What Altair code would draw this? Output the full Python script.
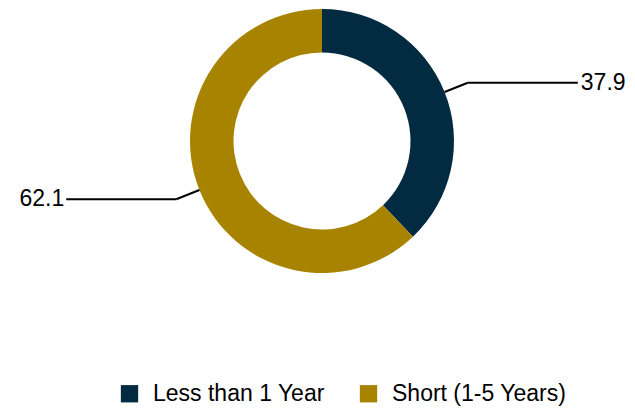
import altair as alt
import pandas as pd

categories = ["Less than 1 Year", "Short (1-5 Years)"]
values = [37.9, 62.1]
labels = ["37.9", "62.1"]
order = [0, 1]
colors = ["#022b42", "#a88300"]

df = pd.DataFrame({"cat": categories, "value": values, "label": labels, "ord": order})

W, H = 619, 400
CX, CY = 314, 133
R_OUT, R_IN = 132, 88.5
R_ELB = 157
HLEN = 110
FONT = "Arial"

base = alt.Chart(df).transform_joinaggregate(
    total="sum(value)"
).transform_window(
    cum="sum(value)", sort=[alt.SortField("ord")], frame=[None, 0]
).transform_calculate(
    mid=f"(datum.cum - datum.value/2) / datum.total * 2 * PI",
).transform_calculate(
    side="sin(datum.mid) >= 0 ? 1 : -1",
    x0=f"{CX} + {R_OUT} * sin(datum.mid)",
    y0=f"{CY} - {R_OUT} * cos(datum.mid)",
    x1=f"{CX} + {R_ELB} * sin(datum.mid)",
    y1=f"{CY} - {R_ELB} * cos(datum.mid)",
).transform_calculate(
    x2=f"datum.x1 + datum.side * {HLEN}",
)

arc = alt.Chart(df).mark_arc(outerRadius=R_OUT, innerRadius=R_IN, stroke=None).encode(
    theta=alt.Theta("value:Q", stack=True),
    order=alt.Order("ord:Q"),
    color=alt.Color(
        "cat:N",
        scale=alt.Scale(domain=categories, range=colors),
        legend=alt.Legend(
            orient="none", legendX=110, legendY=374, direction="horizontal",
            title=None, symbolType="square", symbolSize=300, symbolStrokeWidth=0,
            labelFontSize=23, labelFont=FONT, labelColor="#000000", labelLimit=400,
            columnPadding=32, labelOffset=12, padding=0,
        ),
    ),
    x=alt.value(CX),
    y=alt.value(CY),
)

seg1 = base.mark_rule(color="#000000", strokeWidth=2).encode(
    x=alt.X("x0:Q", scale=None, axis=None),
    y=alt.Y("y0:Q", scale=None, axis=None),
    x2="x1:Q",
    y2="y1:Q",
)
seg2 = base.mark_rule(color="#000000", strokeWidth=2).encode(
    x=alt.X("x1:Q", scale=None, axis=None),
    y=alt.Y("y1:Q", scale=None, axis=None),
    x2="x2:Q",
    y2="y1:Q",
)
txt_r = base.transform_filter("datum.side > 0").mark_text(
    align="left", baseline="middle", dx=3, fontSize=23, font=FONT, color="#000000"
).encode(
    x=alt.X("x2:Q", scale=None, axis=None),
    y=alt.Y("y1:Q", scale=None, axis=None),
    text="label:N",
)
txt_l = base.transform_filter("datum.side < 0").mark_text(
    align="right", baseline="middle", dx=-2, fontSize=23, font=FONT, color="#000000"
).encode(
    x=alt.X("x2:Q", scale=None, axis=None),
    y=alt.Y("y1:Q", scale=None, axis=None),
    text="label:N",
)

chart = alt.layer(arc, seg1, seg2, txt_r, txt_l).properties(
    width=W, height=H, padding=0, autosize=alt.AutoSizeParams(type="none")
).configure_view(stroke=None)

chart.save("out.html", embed_options={"renderer": "svg", "actions": False})
